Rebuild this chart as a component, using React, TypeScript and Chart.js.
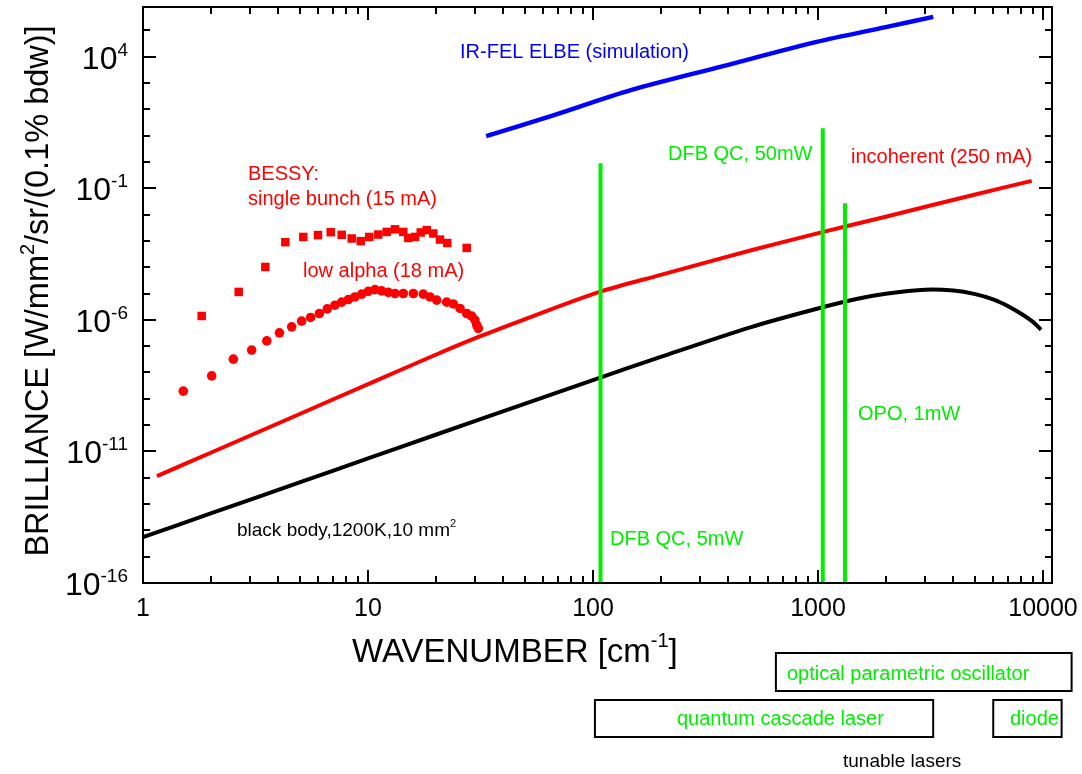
import React, { useEffect, useRef } from "react";
import { Chart, registerables } from "chart.js";

Chart.register(...registerables);

// ---------------- data ----------------
const blackBodyWavenumber = [1, 2, 5, 10, 20, 50, 100, 200, 500, 1000, 1500, 2000, 3000, 4000, 5000, 6000, 7000, 8000, 9000, 9800];
const blackBodyBrilliance = [5.5e-15, 4.4e-14, 6.8e-13, 5.4e-12, 4.3e-11, 6.6e-10, 5.1e-9, 3.9e-8, 5.2e-7, 2.7e-6, 6.3e-6, 9.8e-6, 1.4e-5, 1.3e-5, 9.5e-6, 6.0e-6, 3.3e-6, 1.7e-6, 8.5e-7, 4.2e-7];

const incoherentWavenumber = [1.154, 2, 5, 10.56, 20, 30, 50, 107, 200, 500, 1056, 2000, 5000, 8910];
const incoherentBrilliance = [1.15e-12, 8.9e-12, 2.7e-10, 4.4e-9, 4.7e-8, 2.0e-7, 1.07e-6, 1.15e-5, 5.1e-5, 4.3e-4, 2.2e-3, 8.3e-3, 5.8e-2, 0.19];

const irFelWavenumber = [33.5, 66.6, 146, 379, 986, 2000, 3252];
const irFelBrilliance = [9.5, 59, 525, 4370, 36300, 132000, 324000];

const singleBunchWavenumber = [1.823, 2.663, 3.497, 4.291, 5.158, 5.995, 6.828, 7.641, 8.466, 9.282, 10.13, 11.11, 12.11, 13.18, 14.35, 15.11, 16.18, 17.15, 18.24, 19.51, 20.89, 22.51, 27.46];
const singleBunchBrilliance = [1.4e-6, 1.15e-5, 1.02e-4, 8.9e-4, 1.41e-3, 1.66e-3, 2.14e-3, 1.7e-3, 1.23e-3, 9.8e-4, 1.41e-3, 1.74e-3, 2.19e-3, 2.75e-3, 2.19e-3, 1.29e-3, 1.41e-3, 2.09e-3, 2.57e-3, 1.91e-3, 1.12e-3, 8.3e-4, 5.4e-4];

const lowAlphaWavenumber = [1.51, 2.02, 2.52, 3.04, 3.55, 4.04, 4.58, 5.07, 5.56, 6.08, 6.59, 7.13, 7.64, 8.18, 8.75, 9.38, 10.03, 10.74, 11.5, 12.31, 13.18, 14.35, 15.9, 17.61, 18.86, 20.2, 22.38, 23.94, 25.64, 27.46, 28.9, 29.89, 30.41, 30.92];
const lowAlphaBrilliance = [1.95e-9, 7.4e-9, 3.2e-8, 7.1e-8, 1.58e-7, 3.2e-7, 5.4e-7, 8.9e-7, 1.23e-6, 1.74e-6, 2.6e-6, 3.6e-6, 4.7e-6, 5.9e-6, 7.4e-6, 9.5e-6, 1.2e-5, 1.41e-5, 1.26e-5, 1.1e-5, 1.0e-5, 1.0e-5, 1.0e-5, 9.5e-6, 7.4e-6, 5.6e-6, 4.7e-6, 4.0e-6, 2.7e-6, 1.74e-6, 1.38e-6, 9.8e-7, 6.3e-7, 4.7e-7];

// single-line lasers: DFB QC 5mW, DFB QC 50mW, OPO 1mW
const laserLineWavenumber = [108, 1050, 1318];
const laserLineBrilliance = [0.89, 19, 0.027];

// tunable laser ranges (wavenumber)
const tunableNames = ["optical parametric oscillator", "quantum cascade laser", "diode"];
const tunableFrom = [650, 102, 6010];
const tunableTo = [13400, 3250, 12100];

// axes
const xMin = 1;
const xMax = 10965;
const yMin = 1e-16;
const yMax = 7.7e5;
const xLabelValues = [1, 10, 100, 1000, 10000];
const xTickLabels = ["1", "10", "100", "1000", "10000"];
const yTickExponents = [-16, -15, -14, -13, -12, -11, -10, -9, -8, -7, -6, -5, -4, -3, -2, -1, 0, 1, 2, 3, 4, 5];
const yLabelExponents = [-16, -11, -6, -1, 4];

// ---------------- styling ----------------
const FONT = "'Liberation Sans', Arial, Helvetica, sans-serif";
const RED = "#ff0000";
const GREEN = "#00ee00";
const BLUE = "#0000ff";

type Part = { t: string; sup?: boolean };

function richWidth(ctx: CanvasRenderingContext2D, parts: Part[], size: number, supSize: number) {
  let w = 0;
  for (const p of parts) {
    ctx.font = `${p.sup ? supSize : size}px ${FONT}`;
    w += ctx.measureText(p.t).width;
  }
  return w;
}

function drawRich(ctx: CanvasRenderingContext2D, parts: Part[], x: number, y: number, size: number, supSize: number, rise: number) {
  let cx = x;
  ctx.textAlign = "left";
  ctx.textBaseline = "alphabetic";
  for (const p of parts) {
    ctx.font = `${p.sup ? supSize : size}px ${FONT}`;
    ctx.fillText(p.t, cx, p.sup ? y - rise : y);
    cx += ctx.measureText(p.t).width;
  }
}

const annotations: { parts: Part[]; x: number; y: number; size: number; color: string }[] = [
  { parts: [{ t: "IR-FEL ELBE (simulation)" }], x: 460, y: 58, size: 20, color: BLUE },
  { parts: [{ t: "BESSY:" }], x: 248, y: 180, size: 20, color: RED },
  { parts: [{ t: "single bunch (15 mA)" }], x: 248, y: 205, size: 20, color: RED },
  { parts: [{ t: "low alpha (18 mA)" }], x: 303, y: 277, size: 20, color: RED },
  { parts: [{ t: "DFB QC, 50mW" }], x: 668, y: 160, size: 20, color: GREEN },
  { parts: [{ t: "incoherent (250 mA)" }], x: 851, y: 163, size: 20, color: RED },
  { parts: [{ t: "OPO, 1mW" }], x: 858, y: 420, size: 20, color: GREEN },
  { parts: [{ t: "DFB QC, 5mW" }], x: 610, y: 545, size: 20, color: GREEN },
  { parts: [{ t: "black body,1200K,10 mm" }, { t: "2", sup: true }], x: 237, y: 536, size: 19, color: "#000" },
];

const boxRows = [
  { top: 653, bottom: 691, textX: 787, baseline: 680 },
  { top: 700, bottom: 737, textX: 677, baseline: 725 },
  { top: 700, bottom: 737, textX: 1010, baseline: 725 },
];

const axesPlugin = {
  id: "customAxes",
  afterDatasetsDraw(chart: any) {
    const ctx: CanvasRenderingContext2D = chart.ctx;
    const { left, right, top, bottom } = chart.chartArea;
    const xs = chart.scales.x;
    const ys = chart.scales.y;
    ctx.save();
    ctx.strokeStyle = "#000";
    ctx.fillStyle = "#000";
    ctx.lineWidth = 2;
    ctx.lineCap = "butt";
    // frame
    ctx.strokeRect(left, top, right - left, bottom - top);
    // y ticks (inward on left & right)
    for (const e of yTickExponents) {
      const y = Math.round(ys.getPixelForValue(Math.pow(10, e)));
      const len = yLabelExponents.includes(e) ? 13 : 7;
      ctx.beginPath();
      ctx.moveTo(left, y);
      ctx.lineTo(left + len, y);
      ctx.moveTo(right, y);
      ctx.lineTo(right - len, y);
      ctx.stroke();
    }
    // x ticks (inward on bottom & top)
    for (let d = 0; d <= 4; d++) {
      for (let m = 1; m <= 9; m++) {
        const v = m * Math.pow(10, d);
        if (v > xMax) continue;
        const x = Math.round(xs.getPixelForValue(v));
        const len = m === 1 ? 13 : 7;
        ctx.beginPath();
        ctx.moveTo(x, bottom);
        ctx.lineTo(x, bottom - len);
        ctx.moveTo(x, top);
        ctx.lineTo(x, top + len);
        ctx.stroke();
      }
    }
    // y tick labels
    for (const e of yLabelExponents) {
      const y = ys.getPixelForValue(Math.pow(10, e));
      const parts: Part[] = [{ t: "10" }, { t: String(e), sup: true }];
      const w = richWidth(ctx, parts, 32, 19);
      ctx.fillStyle = "#000";
      ctx.font = `32px ${FONT}`;
      const w10 = ctx.measureText("10").width;
      const x0 = 128 - w;
      ctx.textAlign = "left";
      ctx.textBaseline = "alphabetic";
      ctx.fillText("10", x0, y + 12);
      ctx.font = `19px ${FONT}`;
      ctx.fillText(String(e), x0 + w10, y - 1);
    }
    // x tick labels
    ctx.font = `25px ${FONT}`;
    ctx.textAlign = "center";
    ctx.textBaseline = "alphabetic";
    xLabelValues.forEach((v, i) => {
      const x = xs.getPixelForValue(v);
      ctx.fillText(xTickLabels[i], x, 616);
    });
    // x title
    ctx.fillStyle = "#000";
    drawRich(ctx, [{ t: "WAVENUMBER [cm" }, { t: "-1", sup: true }, { t: "]" }], 352, 662, 33, 20, 15);
    // y title (rotated)
    const yParts: Part[] = [{ t: "BRILLIANCE [W/mm" }, { t: "2", sup: true }, { t: "/sr/(0.1% bdw)]" }];
    ctx.save();
    ctx.translate(48, 291);
    ctx.rotate(-Math.PI / 2);
    const yw = richWidth(ctx, yParts, 32.5, 20);
    drawRich(ctx, yParts, -yw / 2, 0, 32.5, 20, 14);
    ctx.restore();
    // annotations
    for (const a of annotations) {
      ctx.fillStyle = a.color;
      drawRich(ctx, a.parts, a.x, a.y, a.size, Math.round(a.size * 0.6), 9);
    }
    // tunable laser boxes
    tunableNames.forEach((name, i) => {
      const x1 = xs.getPixelForValue(tunableFrom[i]);
      const x2 = xs.getPixelForValue(tunableTo[i]);
      const r = boxRows[i];
      ctx.strokeStyle = "#000";
      ctx.lineWidth = 2;
      ctx.strokeRect(x1, r.top, x2 - x1, r.bottom - r.top);
      ctx.fillStyle = GREEN;
      ctx.font = `20px ${FONT}`;
      ctx.textAlign = "left";
      ctx.fillText(name, r.textX, r.baseline);
    });
    ctx.fillStyle = "#000";
    ctx.font = `19px ${FONT}`;
    ctx.textAlign = "left";
    ctx.fillText("tunable lasers", 843, 767);
    ctx.restore();
  },
};

function zip(xs: number[], ys: number[]) {
  return xs.map((x, i) => ({ x, y: ys[i] }));
}

export default function App() {
  const ref = useRef<HTMLCanvasElement | null>(null);
  useEffect(() => {
    if (!ref.current) return;
    const laserLines = laserLineWavenumber.map((w, i) => ({
      data: [
        { x: w, y: yMin },
        { x: w, y: laserLineBrilliance[i] },
      ],
      showLine: true,
      borderColor: GREEN,
      borderWidth: 4,
      pointRadius: 0,
      order: 0,
    }));
    const chart = new Chart(ref.current, {
      type: "scatter",
      data: {
        datasets: [
          ...laserLines,
          {
            data: zip(blackBodyWavenumber, blackBodyBrilliance),
            showLine: true,
            borderColor: "#000",
            borderWidth: 4,
            pointRadius: 0,
            tension: 0.3,
            order: 2,
          },
          {
            data: zip(incoherentWavenumber, incoherentBrilliance),
            showLine: true,
            borderColor: RED,
            borderWidth: 4,
            pointRadius: 0,
            tension: 0.3,
            order: 2,
          },
          {
            data: zip(irFelWavenumber, irFelBrilliance),
            showLine: true,
            borderColor: BLUE,
            borderWidth: 4.5,
            pointRadius: 0,
            tension: 0.3,
            order: 2,
          },
          {
            data: zip(singleBunchWavenumber, singleBunchBrilliance),
            showLine: false,
            pointStyle: "rect",
            pointRadius: 6,
            backgroundColor: RED,
            borderWidth: 0,
            order: 1,
          },
          {
            data: zip(lowAlphaWavenumber, lowAlphaBrilliance),
            showLine: false,
            pointStyle: "circle",
            pointRadius: 4.8,
            backgroundColor: RED,
            borderWidth: 0,
            order: 1,
          },
        ] as any,
      },
      options: {
        responsive: false,
        animation: false,
        events: [],
        layout: { padding: { left: 143, top: 7, right: 30, bottom: 191 } },
        plugins: { legend: { display: false }, tooltip: { enabled: false } },
        scales: {
          x: { type: "logarithmic", min: xMin, max: xMax, display: false },
          y: { type: "logarithmic", min: yMin, max: yMax, display: false },
        },
      },
      plugins: [axesPlugin],
    });
    return () => chart.destroy();
  }, []);
  return (
    <div style={{ position: "fixed", left: 0, top: 0, width: 1082, height: 774, background: "#fff" }}>
      <canvas ref={ref} width={1082} height={774} style={{ display: "block" }} />
    </div>
  );
}
